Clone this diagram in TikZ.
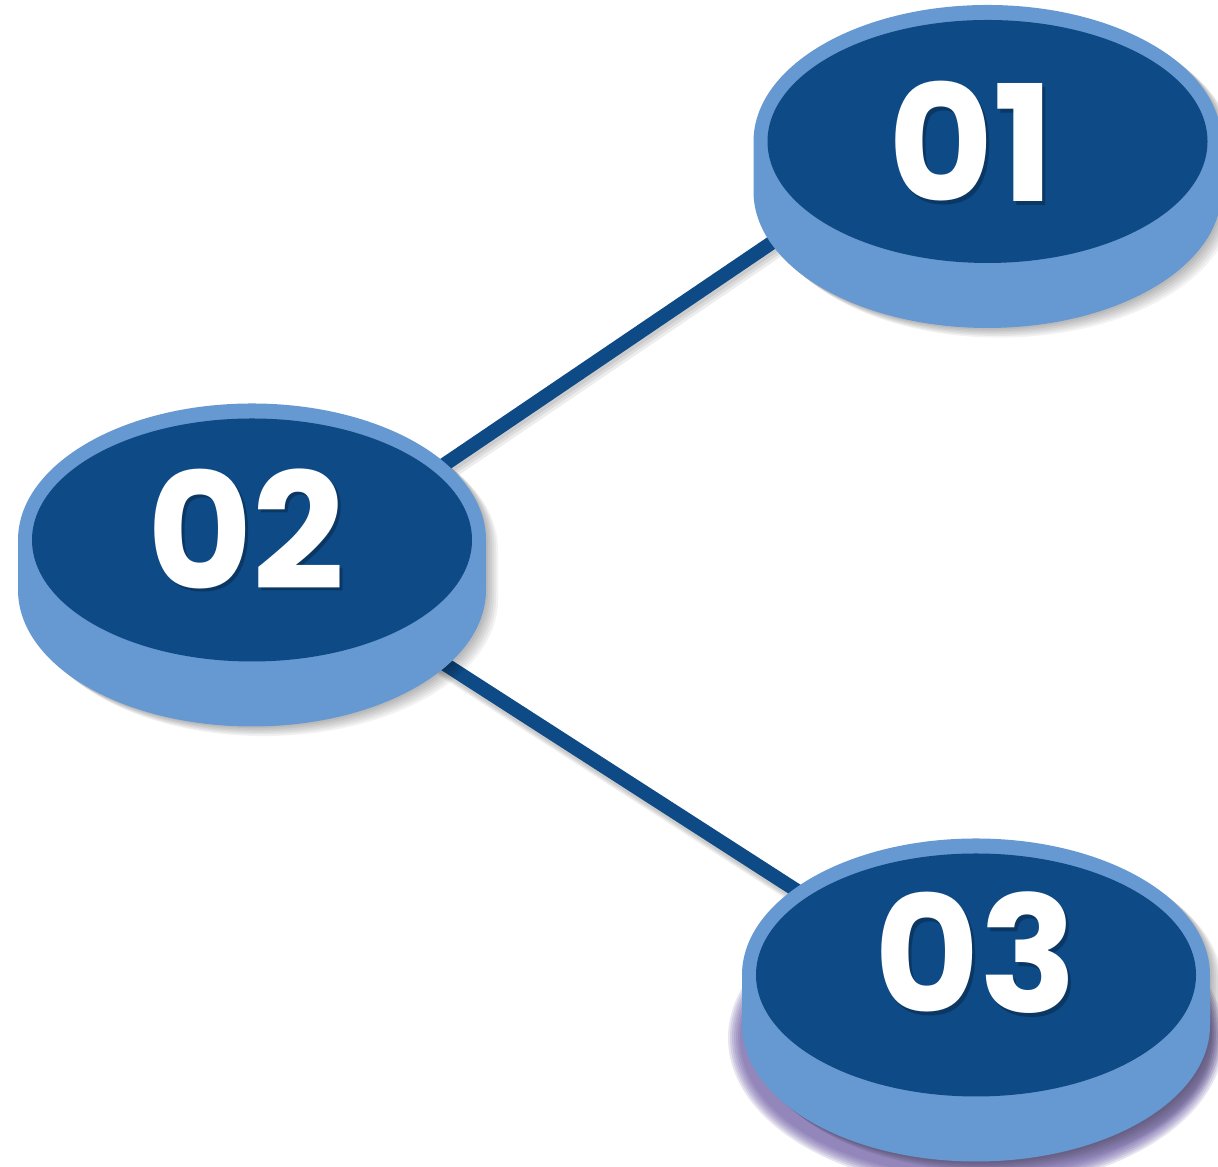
\documentclass[tikz,border=0pt]{standalone}
\usepackage{fontspec}
\setmainfont{Poppins}
\usetikzlibrary{shapes.geometric,calc,backgrounds}

\definecolor{discdark}{RGB}{14,74,133}
\definecolor{disclight}{RGB}{102,153,209}
\definecolor{glowpurple}{RGB}{88,70,150}

\tikzset{
  topface/.style={ellipse, fill=discdark, minimum width=4.4cm, minimum height=2.43cm, inner sep=0pt},
  numlabel/.style={text=white, font=\fontsize{46}{46}\selectfont\bfseries, inner sep=0pt},
  numshadow/.style={numlabel, text=black, opacity=0.25},
  link/.style={discdark, line width=0.14cm},
  linkshadow/.style={black, opacity=0.07, line width=0.16cm}
}

\begin{document}
\begin{tikzpicture}
	\useasboundingbox (0,0) rectangle (12.18,11.67);
	%purple glow under 03
	\foreach \k in {1,...,7}
		\fill[glowpurple,opacity=0.14] (9.76,1.92-0.63) ellipse[x radius=2.34+0.02*\k,y radius=1.365+0.02*\k];
	%discs
	\foreach \n/\x/\y in {1/9.875/10.255,2/2.52/6.27,3/9.76/1.92}{
		\foreach \k in {1,...,6}
			\fill[black,opacity=0.05] (\x-2.34+0.02*\k,\y-0.016*\k) -- ++(0,-0.5) arc[start angle=180,end angle=360,x radius=2.34,y radius=1.365] -- ++(0,0.5) arc[start angle=0,end angle=180,x radius=2.34,y radius=1.365] -- cycle;
		\fill[disclight] (\x-2.34,\y) -- ++(0,-0.5) arc[start angle=180,end angle=360,x radius=2.34,y radius=1.365] -- ++(0,0.5) arc[start angle=0,end angle=180,x radius=2.34,y radius=1.365] -- cycle;
		\node[topface] (d\n) at (\x,\y) {};
	}
	%numbers
	\node[numshadow] (s1) at ($(d1)+(-0.13,-0.035)$) {01};
	\node[numlabel] (t1) at ($(d1)+(-0.16,0)$) {01};
	\node[numshadow] (s2) at ($(d2)+(-0.03,0.075)$) {02};
	\node[numlabel] (t2) at ($(d2)+(-0.06,0.11)$) {02};
	\node[numshadow] (s3) at ($(d3)+(0.03,0.185)$) {03};
	\node[numlabel] (t3) at ($(d3)+(0,0.22)$) {03};
	%connectors behind the discs
	\begin{pgfonlayer}{background}
		\foreach \k in {1,...,3}{
			\draw[linkshadow] ($(d2)+(0.015*\k,-0.55-0.025*\k)$) -- ($(d1)+(0.015*\k,0.45-0.025*\k)$);
			\draw[linkshadow] ($(d2)+(0.01*\k,-0.025*\k)$) -- ($(d3)+(0.01*\k,-0.31-0.025*\k)$);
		}
		\draw[link] ($(d2)+(0,-0.55)$) -- ($(d1)+(0,0.45)$);
		\draw[link] (d2) -- ($(d3)+(0,-0.31)$);
	\end{pgfonlayer}
\end{tikzpicture}
\end{document}
